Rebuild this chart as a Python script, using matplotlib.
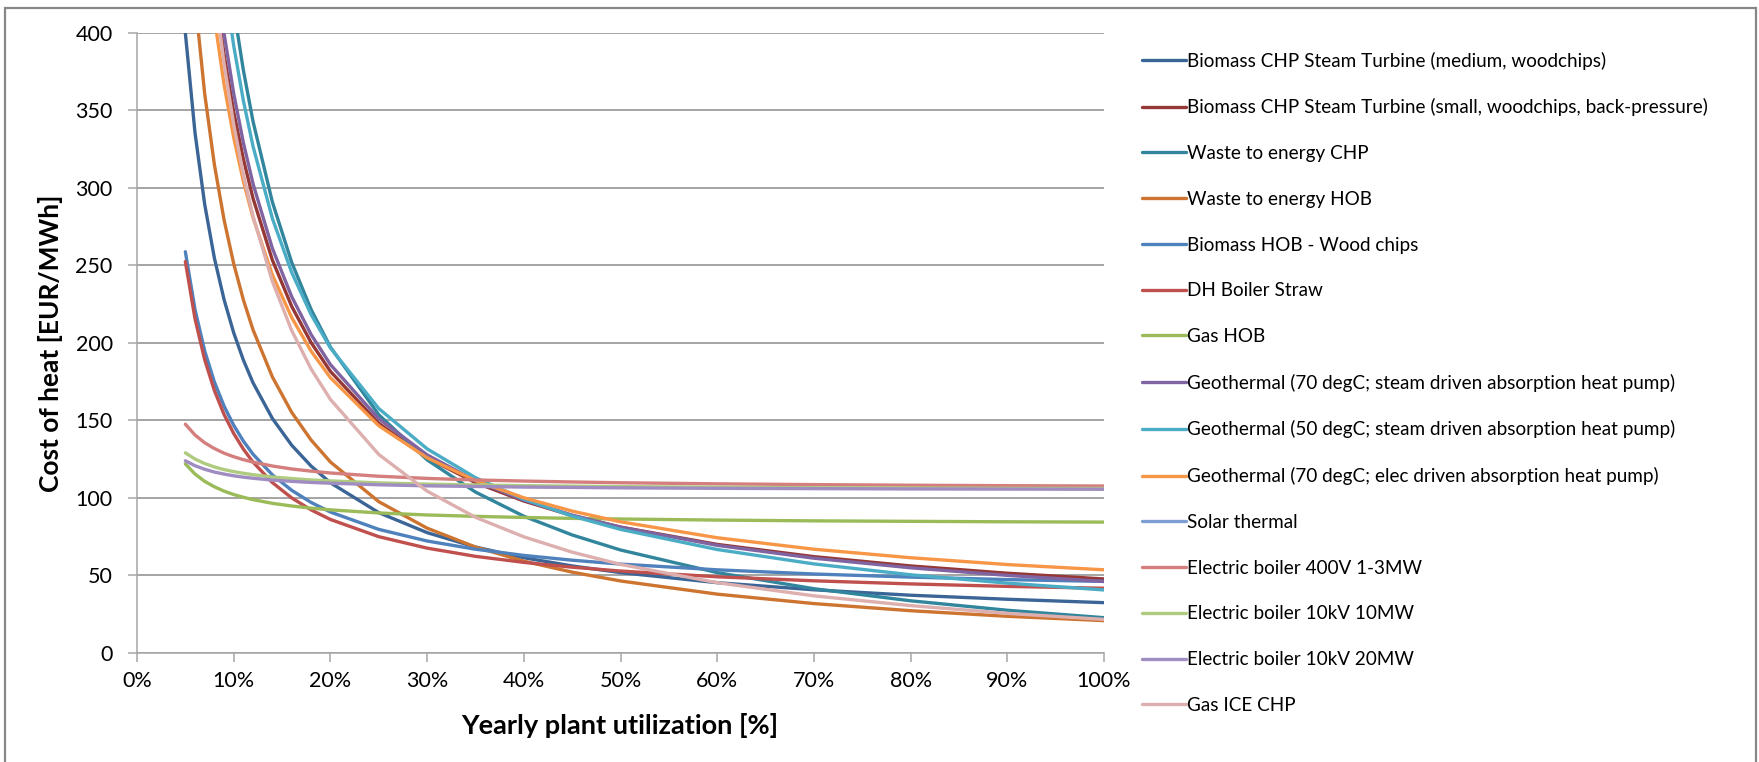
import matplotlib
matplotlib.use("Agg")
import matplotlib.pyplot as plt
from matplotlib.patches import Rectangle
from matplotlib.ticker import FuncFormatter

plt.rcParams["font.family"] = ["Lato", "DejaVu Sans"]

# ── data ──────────────────────────────────────────────────────────────────────
utilization = [5, 6, 7, 8, 9, 10, 11, 12, 14, 16, 18, 20, 25, 30, 35, 40, 45,
               50, 60, 70, 80, 90, 100]

biomass_chp_medium = [400.0, 335.5, 289.4, 254.8, 228.0, 206.5, 188.9, 174.2, 151.2,
                      133.9, 120.5, 109.7, 90.4, 77.5, 68.2, 61.3, 56.0, 51.7, 45.2,
                      40.6, 37.1, 34.5, 32.3]
biomass_chp_small = [684.1, 572.4, 492.7, 432.9, 386.3, 349.1, 318.6, 293.3, 253.4,
                     223.5, 200.2, 181.6, 148.1, 125.8, 109.8, 97.9, 88.5, 81.1, 69.9,
                     62.0, 56.0, 51.3, 47.6]
waste_chp = [852.5, 706.9, 602.9, 524.9, 464.2, 415.7, 376.0, 342.9, 290.9, 251.9,
             221.6, 197.3, 153.6, 124.5, 103.7, 88.1, 76.0, 66.3, 51.7, 41.3, 33.5,
             27.4, 22.6]
waste_hob = [507.1, 421.8, 360.8, 315.1, 279.5, 251.1, 227.8, 208.4, 178.0, 155.1,
             137.3, 123.1, 97.5, 80.4, 68.2, 59.1, 52.0, 46.3, 37.8, 31.7, 27.1,
             23.5, 20.7]
biomass_hob = [258.8, 221.5, 194.8, 174.8, 159.2, 146.8, 136.6, 128.1, 114.8, 104.8,
               97.0, 90.8, 79.6, 72.1, 66.8, 62.8, 59.7, 57.2, 53.5, 50.8, 48.8,
               47.2, 46.0]
dh_straw = [252.5, 215.5, 189.1, 169.3, 153.8, 141.5, 131.4, 123.0, 109.8, 99.9,
            92.2, 86.0, 74.9, 67.5, 62.2, 58.3, 55.2, 52.7, 49.0, 46.4, 44.4, 42.8,
            41.6]
gas_hob = [121.9, 115.3, 110.6, 107.1, 104.3, 102.1, 100.3, 98.8, 96.4, 94.7, 93.3,
           92.2, 90.2, 88.9, 88.0, 87.3, 86.7, 86.3, 85.6, 85.1, 84.8, 84.5, 84.3]
geo70_steam = [711.0, 594.3, 511.0, 448.5, 399.9, 361.0, 329.2, 302.7, 261.0, 229.8,
               205.4, 186.0, 151.0, 127.7, 111.0, 98.5, 88.8, 81.0, 69.3, 61.0,
               54.8, 49.9, 46.0]
geo50_steam = [782.1, 652.0, 559.1, 489.4, 435.2, 391.8, 356.3, 326.8, 280.3, 245.4,
               218.3, 196.7, 157.6, 131.6, 113.0, 99.1, 88.2, 79.6, 66.6, 57.3,
               50.3, 44.9, 40.5]
geo70_elec = [642.5, 539.2, 465.4, 410.0, 366.9, 332.5, 304.3, 280.8, 243.9, 216.3,
              194.7, 177.5, 146.5, 125.8, 111.1, 100.0, 91.4, 84.5, 74.2, 66.8,
              61.3, 56.9, 53.5]
solar_thermal = []
el_400v = [147.5, 140.5, 135.5, 131.8, 128.8, 126.5, 124.6, 123.0, 120.5, 118.6,
           117.2, 116.0, 113.9, 112.5, 111.5, 110.8, 110.2, 109.7, 109.0, 108.5,
           108.1, 107.8, 107.6]
el_10kv_10mw = [129.0, 125.0, 122.1, 119.9, 118.2, 116.9, 115.8, 114.9, 113.4, 112.4,
                111.5, 110.9, 109.6, 108.8, 108.3, 107.8, 107.5, 107.2, 106.8, 106.5,
                106.3, 106.1, 106.0]
el_10kv_20mw = [123.9, 120.7, 118.4, 116.6, 115.3, 114.2, 113.3, 112.6, 111.4, 110.6,
                109.9, 109.4, 108.4, 107.7, 107.3, 106.9, 106.7, 106.4, 106.1, 105.9,
                105.7, 105.6, 105.5]
gas_ice_chp = [696.0, 577.7, 493.1, 429.8, 380.4, 341.0, 308.7, 281.8, 239.6, 207.9,
               183.2, 163.5, 128.0, 104.3, 87.4, 74.8, 64.9, 57.0, 45.2, 36.7, 30.4,
               25.4, 21.5]

series = [
    ("Biomass CHP Steam Turbine (medium, woodchips)", biomass_chp_medium, "#3B6596"),
    ("Biomass CHP Steam Turbine (small, woodchips, back-pressure)", biomass_chp_small, "#953735"),
    ("Waste to energy CHP", waste_chp, "#31859C"),
    ("Waste to energy HOB", waste_hob, "#CD7430"),
    ("Biomass HOB - Wood chips", biomass_hob, "#4F81BD"),
    ("DH Boiler Straw", dh_straw, "#C0504D"),
    ("Gas HOB", gas_hob, "#9BBB59"),
    ("Geothermal (70 degC; steam driven absorption heat pump)", geo70_steam, "#8064A2"),
    ("Geothermal (50 degC; steam driven absorption heat pump)", geo50_steam, "#4BACC6"),
    ("Geothermal (70 degC; elec driven absorption heat pump)", geo70_elec, "#F79646"),
    ("Solar thermal", solar_thermal, "#7E9FD4"),
    ("Electric boiler 400V 1-3MW", el_400v, "#D47F7D"),
    ("Electric boiler 10kV 10MW", el_10kv_10mw, "#AFCB7F"),
    ("Electric boiler 10kV 20MW", el_10kv_20mw, "#9F8DC2"),
    ("Gas ICE CHP", gas_ice_chp, "#DDAFAE"),
]

# ── figure ───────────────────────────────────────────────────────────────────
fig = plt.figure(figsize=(17.59, 7.62), dpi=100)
ax = fig.add_axes([137 / 1759, 1 - 652.7 / 762, (1104 - 137) / 1759, (652.7 - 33) / 762])

for label, values, color in series:
    x = [u / 100 for u in utilization[:len(values)]]
    ax.plot(x, values, color=color, lw=2.4, label=label, solid_capstyle="round")

ax.set_xlim(0, 1)
ax.set_ylim(0, 400)
ax.set_xticks([i / 10 for i in range(11)])
ax.xaxis.set_major_formatter(FuncFormatter(lambda v, _: f"{v * 100:.0f}%"))
ax.set_yticks(range(0, 401, 50))

ax.grid(axis="y", color="#8C8C8C", lw=1.1)
ax.set_axisbelow(True)
for s in ["top", "right"]:
    ax.spines[s].set_visible(False)
for s in ["left", "bottom"]:
    ax.spines[s].set_color("#A6A6A6")
    ax.spines[s].set_linewidth(1.1)
ax.tick_params(axis="both", colors="#A6A6A6", labelcolor="black", labelsize=15.5,
               length=6.5, width=1.1)
ax.tick_params(axis="y", pad=11)
ax.tick_params(axis="x", pad=7)

ax.set_xlabel("Yearly plant utilization [%]", fontsize=19.5, fontweight="bold")
ax.set_ylabel("Cost of heat [EUR/MWh]", fontsize=19, fontweight="bold")
ax.xaxis.set_label_coords(0.4995, -0.097)
ax.yaxis.set_label_coords(-0.077, 0.5)

leg = fig.legend(loc="upper left", bbox_to_anchor=(1134.5 / 1759, 1 - 44 / 762),
                 frameon=False, fontsize=13.6, handlelength=2.3, handletextpad=0.1,
                 labelspacing=1.52, borderaxespad=0)

# outer chart frame
fig.patches.append(Rectangle((5 / 1759, -0.02), 1751 / 1759, 1 - 8 / 762 + 0.02,
                             transform=fig.transFigure, fill=False,
                             edgecolor="#878787", lw=1.6))

fig.savefig("out.png", dpi=100)
